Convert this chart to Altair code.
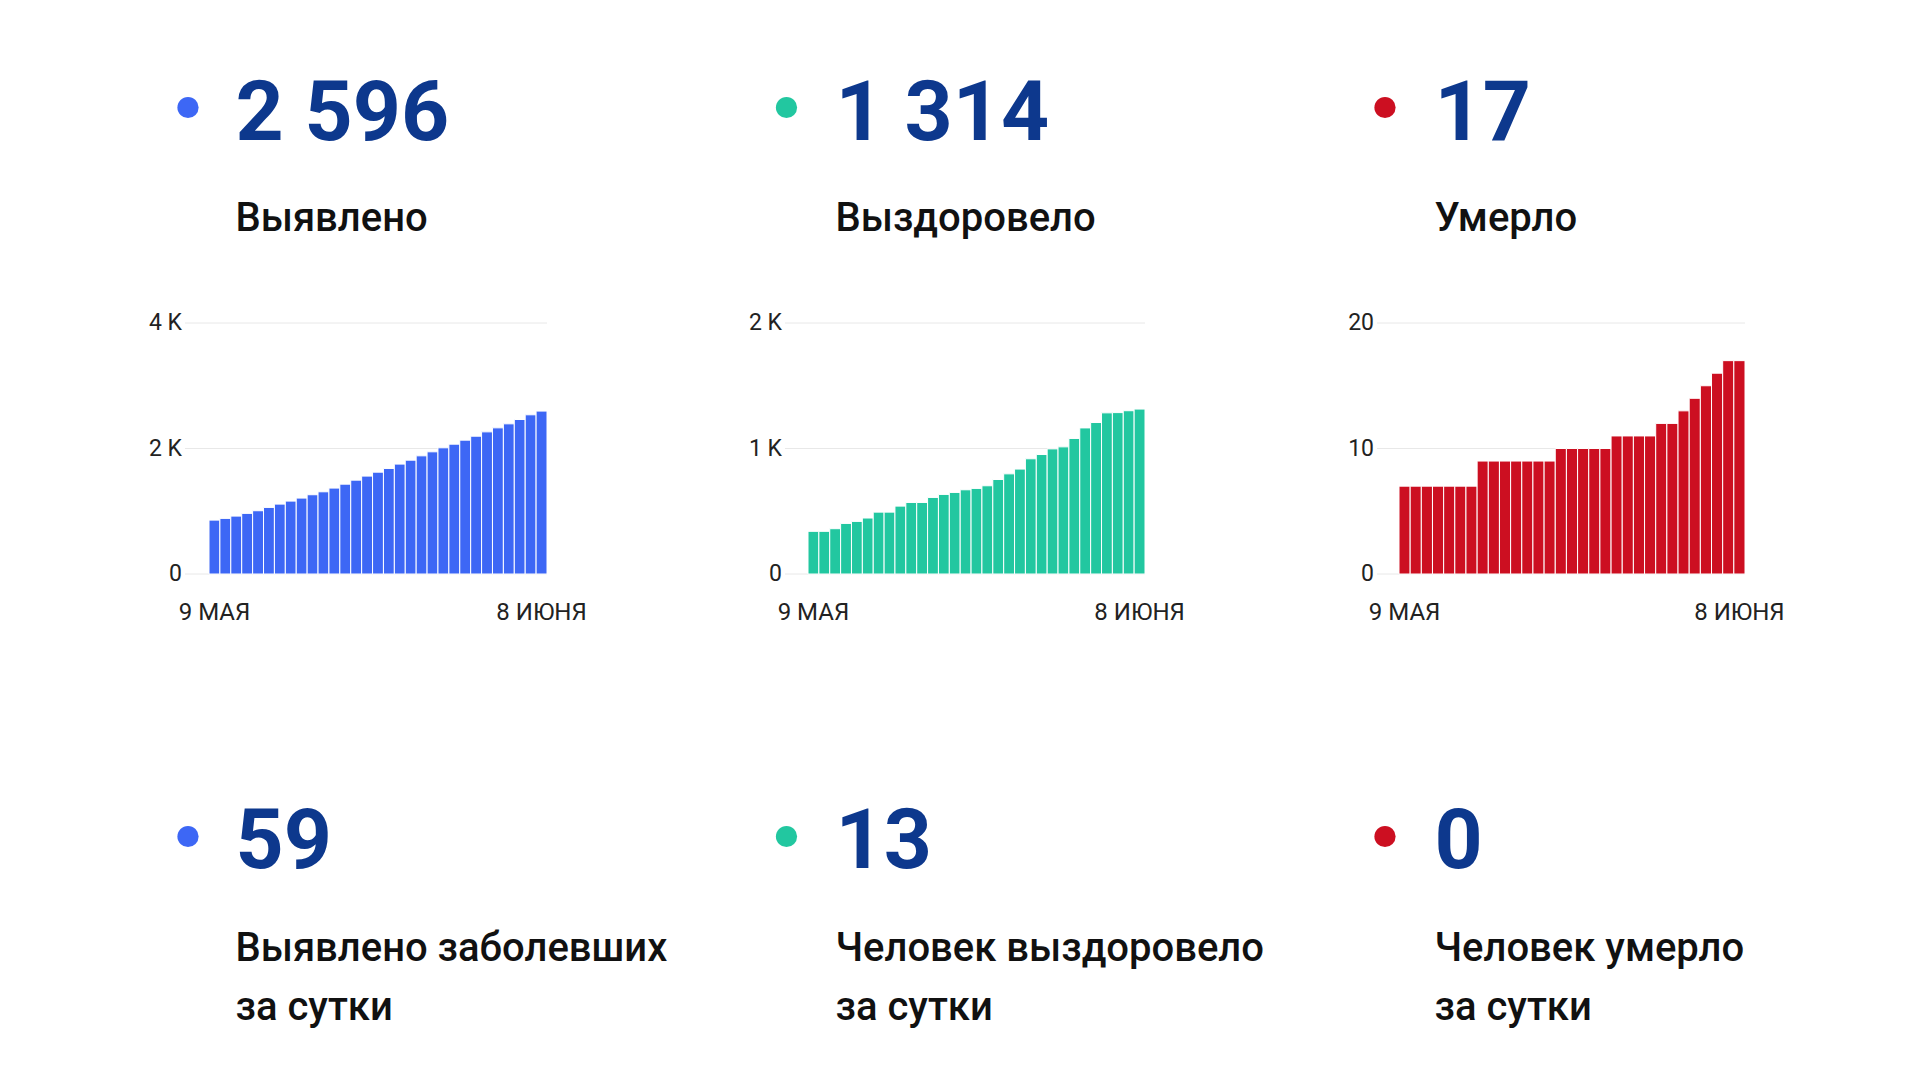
import altair as alt
import pandas as pd

# ---------------- data ----------------
days = list(range(31))                       # 9 May ... 8 June
x_tick_labels = ["9 МАЯ", "8 ИЮНЯ"]

cases = [859, 886, 923, 966, 1008, 1061, 1114, 1162, 1210, 1263,
         1310, 1369, 1432, 1496, 1560, 1623, 1682, 1751, 1814, 1883,
         1947, 2011, 2069, 2133, 2196, 2265, 2329, 2393, 2462, 2537, 2596]
recovered = [340, 340, 361, 403, 419, 446, 493, 493, 541, 570,
             570, 610, 634, 650, 671, 682, 703, 753, 798, 836,
             918, 952, 997, 1013, 1080, 1164, 1207, 1284, 1286, 1301, 1314]
deaths = [7, 7, 7, 7, 7, 7, 7, 9, 9, 9,
          9, 9, 9, 9, 10, 10, 10, 10, 10, 11,
          11, 11, 11, 12, 12, 13, 14, 15, 16, 17, 17]

totals = [2596, 1314, 17]
daily = [59, 13, 0]
titles = ["Выявлено", "Выздоровело", "Умерло"]
daily_titles = [["Выявлено заболевших", "за сутки"],
                ["Человек выздоровело", "за сутки"],
                ["Человек умерло", "за сутки"]]
y_max = [4000, 2000, 20]
y_ticks = [[0, 2000, 4000], [0, 1000, 2000], [0, 10, 20]]
y_tick_labels = [["0", "2 K", "4 K"], ["0", "1 K", "2 K"], ["0", "10", "20"]]
series = [cases, recovered, deaths]

# ---------------- style / layout ----------------
colors = ["#3d67f5", "#22c7a0", "#cc0f21"]
NAVY = "#0d388d"
FONT = "Roboto"
dot_x = [188, 786.5, 1385]
text_x = [235.5, 835.5, 1434.5]
grid_left = [185, 785, 1377]
bar_left = [209, 808, 1399]
bar_right = [547, 1145, 1745]
Y0, YTOP = 574, 323


def fmt(v):
    return f"{v:,}".replace(",", " ")


def one(text):
    return pd.DataFrame({"t": [text]})


layers = []
for i in range(3):
    c = colors[i]
    xs = alt.Scale(domain=[0, len(days)], range=[bar_left[i], bar_right[i]], nice=False, zero=False)
    ys = alt.Scale(domain=[0, y_max[i]], range=[Y0, YTOP], nice=False, zero=False)

    gdf = pd.DataFrame({"tick": y_ticks[i], "label": y_tick_labels[i]})
    grid = alt.Chart(gdf).mark_rule(color="#e8e8e8", strokeWidth=1).encode(
        y=alt.Y("tick:Q", scale=ys, axis=None),
        x=alt.value(grid_left[i]), x2=alt.value(bar_right[i]))
    ylab = alt.Chart(gdf).mark_text(align="right", baseline="middle", font=FONT,
                                    fontSize=23, color="#222222").encode(
        y=alt.Y("tick:Q", scale=ys, axis=None),
        x=alt.value(grid_left[i] - 3), text="label:N")

    bdf = pd.DataFrame({"day": days, "day_end": [d + 1 for d in days], "value": series[i]})
    bars = alt.Chart(bdf).mark_bar(color=c, stroke="white", strokeWidth=1).encode(
        x=alt.X("day:Q", scale=xs, axis=None), x2="day_end:Q",
        y=alt.Y("value:Q", scale=ys, axis=None), y2=alt.datum(0))

    xdf = pd.DataFrame({"pos": [days[0] + 0.5, days[-1] + 0.5], "label": x_tick_labels})
    xlab = alt.Chart(xdf).mark_text(align="center", baseline="middle", font=FONT,
                                    fontSize=24, color="#222222").encode(
        x=alt.X("pos:Q", scale=xs, axis=None), y=alt.value(613), text="label:N")

    layers += [grid, bars, ylab, xlab]

    # header / footer blocks
    for dy in [107.5, 836.5]:
        layers.append(alt.Chart(one("")).mark_circle(color=c, opacity=1, size=450).encode(
            x=alt.value(dot_x[i]), y=alt.value(dy)))
    layers.append(alt.Chart(one(fmt(totals[i]))).mark_text(
        align="left", baseline="alphabetic", font=FONT, fontSize=84, fontWeight="bold",
        color=NAVY).encode(x=alt.value(text_x[i]), y=alt.value(140), text="t:N"))
    layers.append(alt.Chart(one(titles[i])).mark_text(
        align="left", baseline="alphabetic", font=FONT, fontSize=40, fontWeight=500,
        color="#111111").encode(x=alt.value(text_x[i]), y=alt.value(231), text="t:N"))
    layers.append(alt.Chart(one(fmt(daily[i]))).mark_text(
        align="left", baseline="alphabetic", font=FONT, fontSize=84, fontWeight="bold",
        color=NAVY).encode(x=alt.value(text_x[i]), y=alt.value(868), text="t:N"))
    for k, line in enumerate(daily_titles[i]):
        layers.append(alt.Chart(one(line)).mark_text(
            align="left", baseline="alphabetic", font=FONT, fontSize=40, fontWeight=500,
            color="#111111").encode(x=alt.value(text_x[i]), y=alt.value(961 + 59 * k), text="t:N"))

chart = alt.layer(*layers).resolve_scale(x="independent", y="independent").properties(
    width=1920, height=1080, padding=0,
    autosize=alt.AutoSizeParams(type="none"), background="white"
).configure_view(stroke=None)

chart.save("out.html", embed_options={"renderer": "svg", "actions": False})
